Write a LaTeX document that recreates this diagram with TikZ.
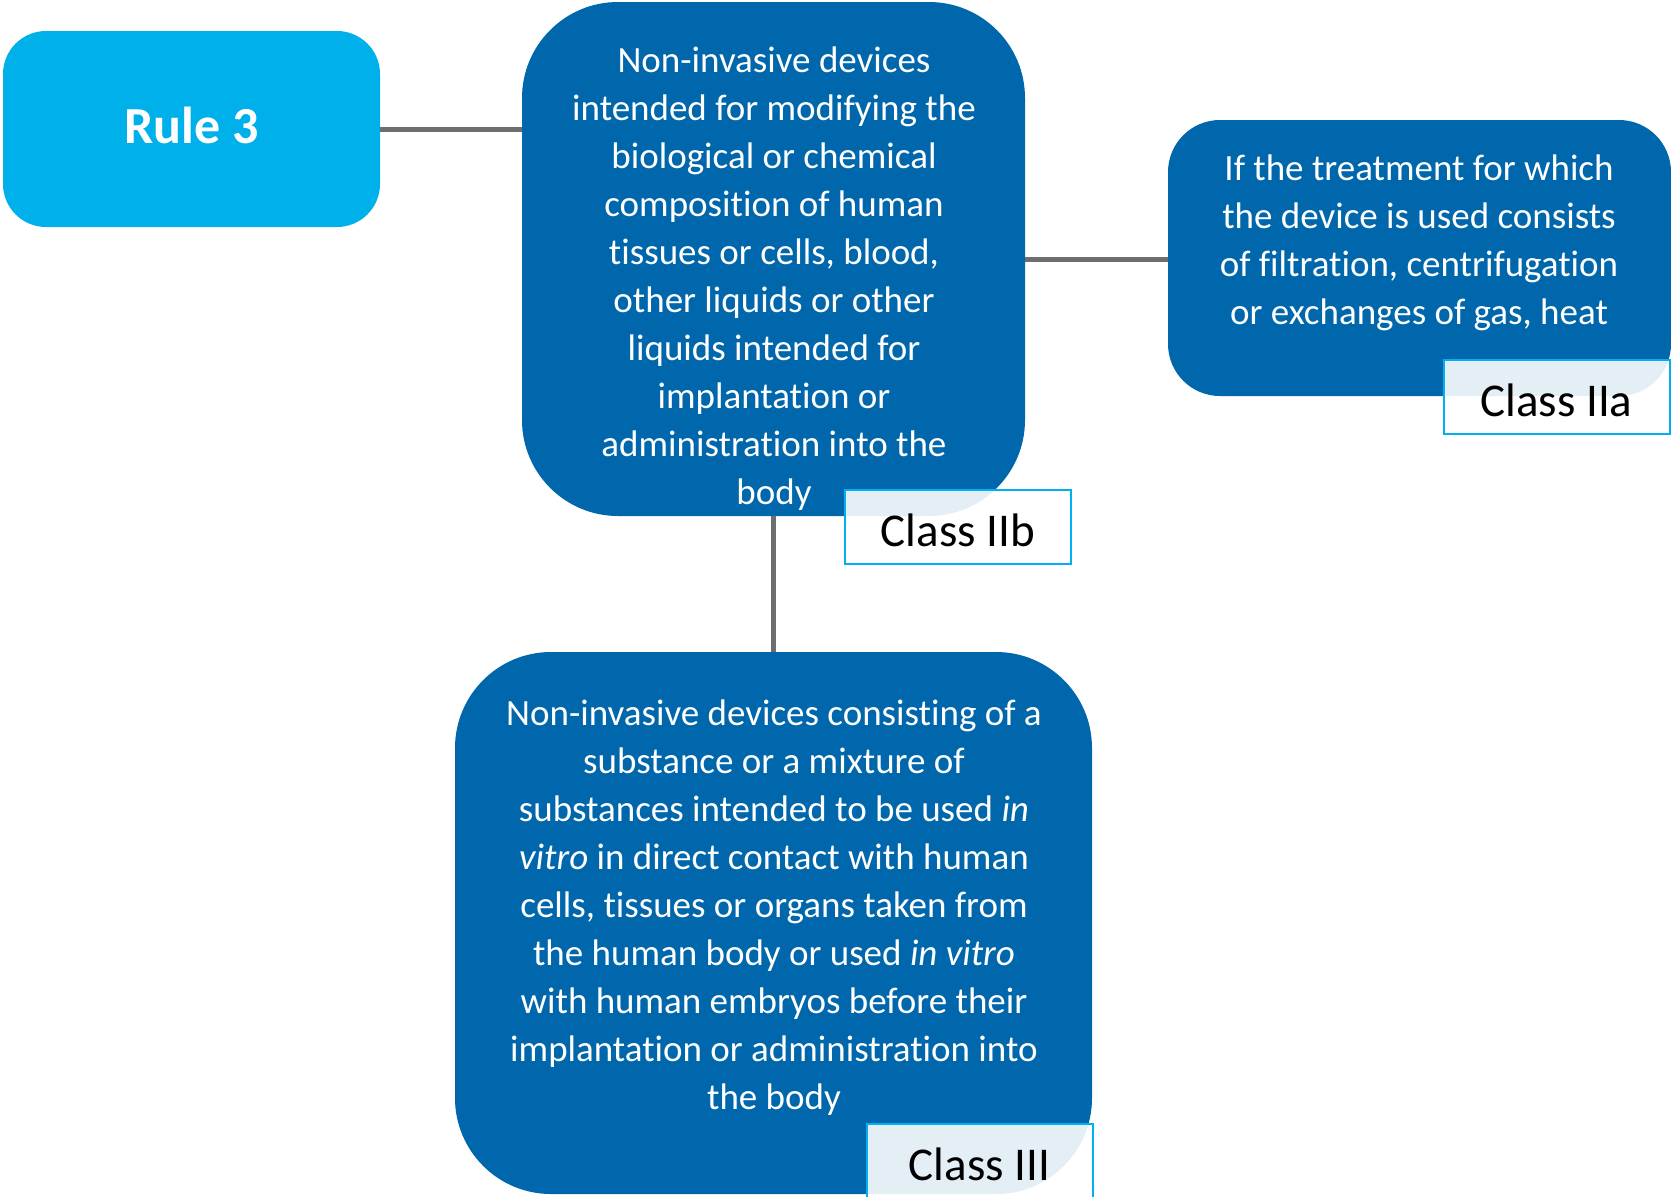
\documentclass[tikz,border=0pt]{standalone}
\usepackage{fontspec}
\setmainfont{Carlito}[Ligatures={NoCommon}]
\definecolor{ruleblue}{RGB}{0,176,235}
\definecolor{boxblue}{RGB}{0,103,172}
\definecolor{linkgray}{RGB}{110,110,114}
\definecolor{tagcyan}{RGB}{0,176,240}
\begin{document}
\begin{tikzpicture}[x=0.5pt,y=-0.5pt,
  every node/.style={inner sep=0pt,outer sep=0pt},
  rulebox/.style={rectangle,rounded corners=21.5pt,fill=ruleblue,
    minimum width=188.5pt,minimum height=98pt},
  ruletext/.style={text=white,font=\fontsize{26}{30}\selectfont\bfseries},
  bigbox/.style={rectangle,rounded corners=48pt,fill=boxblue},
  smallbox/.style={rectangle,rounded corners=26pt,fill=boxblue},
  boxtext/.style={align=center,text=white,font=\fontsize{18.5}{24}\selectfont},
  classtag/.style={rectangle,draw=tagcyan,line width=1pt,fill=white,fill opacity=0.89,
    text opacity=1,minimum width=113pt,minimum height=37pt,text height=19.5pt,text depth=0pt,
    font=\fontsize{23.5}{28}\selectfont},
  link/.style={draw=linkgray,line width=2.5pt}]
\useasboundingbox (0,0) rectangle (1671,1196);
% boxes
\node [rulebox] (rule) at (191.5,129) {};
\node [bigbox,minimum width=251.5pt,minimum height=257pt] (b1) at (773.5,259) {};
\node [smallbox,minimum width=251.5pt,minimum height=138pt] (b2) at (1419.5,258) {};
\node [bigbox,minimum width=318.5pt,minimum height=271pt] (b3) at (773.5,923) {};
% texts
\node [ruletext] (r) at (191.5,125) {Rule 3};
\node [boxtext] (t1) at (774,279) {Non-invasive devices\\intended for modifying the\\biological or chemical\\composition of human\\tissues or cells, blood,\\other liquids or other\\liquids intended for\\implantation or\\administration into the\\body};
\node [boxtext] (t2) at (1419,243) {If the treatment for which\\the device is used consists\\of filtration, centrifugation\\or exchanges of gas, heat};
\node [boxtext] (t3) at (774,908) {Non-invasive devices consisting of a\\substance or a mixture of\\substances intended to be used \textit{in}\\\textit{vitro} in direct contact with human\\cells, tissues or organs taken from\\the human body or used \textit{in vitro}\\with human embryos before their\\implantation or administration into\\the body};
% links
\path [link] (rule.east) -- (rule.east -| b1.west);
\path [link] (b1.east) -- (b1.east -| b2.west);
\path [link] (b1.south) -- (b3.north);
% classes
\node [classtag] (c1) at (958,527) {Class IIb};
\node [classtag] (c2) at (1556.5,396.5) {Class IIa};
\node [classtag] (c3) at (979.5,1161) {Class III};
\end{tikzpicture}
\end{document}
